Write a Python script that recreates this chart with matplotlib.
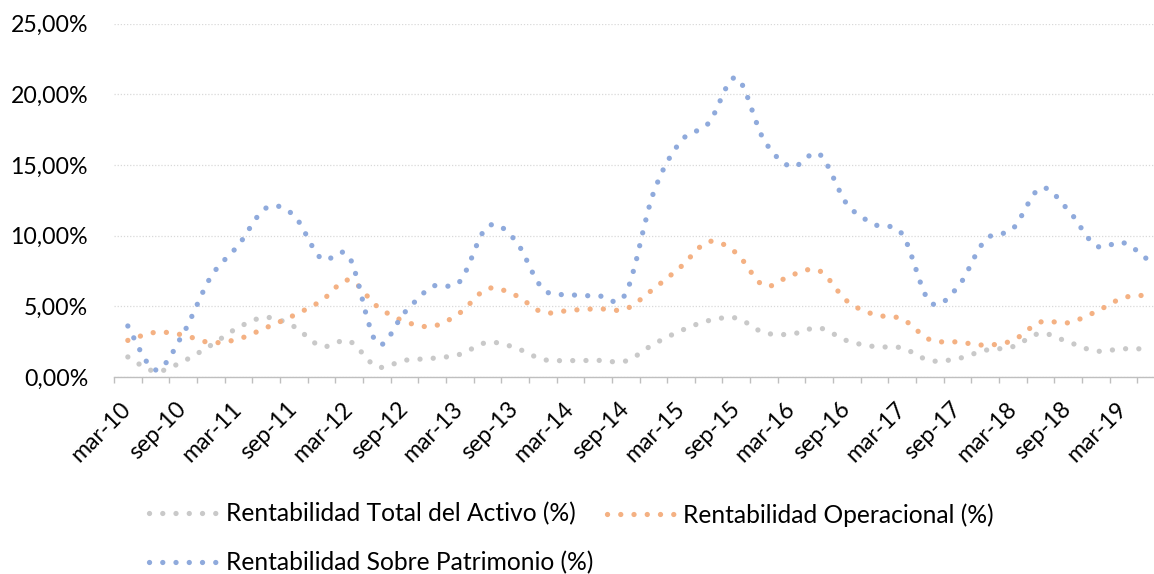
import numpy as np
import matplotlib
matplotlib.use("Agg")
import matplotlib.pyplot as plt
from matplotlib.path import Path
from matplotlib.patches import PathPatch
from matplotlib.lines import Line2D
from matplotlib.ticker import FixedLocator, FuncFormatter, NullFormatter

plt.rcParams["font.family"] = ["Lato", "DejaVu Sans"]

# quarterly periods, mar-10 .. jun-19
periods = [f"{m}-{y:02d}" for y in range(10, 20) for m in ("mar", "jun", "sep", "dic")][:38]

# values in %
roa = [1.42, 0.40, 1.11, 2.24, 3.51, 4.22, 3.58, 2.17, 2.55, 0.73,
       1.18, 1.32, 1.60, 2.45, 2.08, 1.25, 1.16, 1.18, 1.13, 2.31,
       3.28, 3.99, 4.17, 3.14, 3.04, 3.47, 2.57, 2.15, 2.05, 1.16,
       1.30, 1.89, 2.15, 3.09, 2.48, 1.84, 2.00, 1.96]
operacional = [2.59, 3.16, 2.97, 2.43, 2.69, 3.49, 4.36, 5.40, 6.86, 5.02,
               3.94, 3.58, 4.53, 6.25, 5.80, 4.58, 4.72, 4.83, 4.81, 6.23,
               7.81, 9.58, 8.77, 6.46, 7.22, 7.52, 5.38, 4.41, 4.10, 2.64,
               2.48, 2.26, 2.59, 3.89, 3.84, 4.62, 5.61, 5.80]
roe = [3.61, 0.50, 3.07, 7.08, 9.34, 11.96, 11.44, 8.37, 8.51, 2.41,
       4.55, 6.39, 6.75, 10.64, 9.69, 6.25, 5.83, 5.75, 5.90, 13.00,
       16.70, 17.97, 21.18, 16.77, 14.88, 15.78, 12.24, 10.80, 10.10, 5.31,
       6.35, 9.69, 10.50, 13.37, 11.82, 9.29, 9.50, 8.10]

series = [
    ("Rentabilidad Total del Activo (%)", roa, "#c9c9c9"),
    ("Rentabilidad Operacional (%)", operacional, "#f4b183"),
    ("Rentabilidad Sobre Patrimonio (%)", roe, "#8faadc"),
]

DOTS = (0, (0.01, 2.5))
LW = 3.8
FS_TICK = 16.7
FS_LEG = 17.7


def smooth_path(xs, ys):
    # excel-like smoothed line as cubic bezier segments
    pts = np.column_stack([xs, ys]).astype(float)
    n = len(pts)
    verts = [pts[0]]
    codes = [Path.MOVETO]
    for i in range(n - 1):
        p0 = pts[max(i - 1, 0)]
        p1 = pts[i]
        p2 = pts[i + 1]
        p3 = pts[min(i + 2, n - 1)]
        verts += [p1 + (p2 - p0) / 6, p2 - (p3 - p1) / 6, p2]
        codes += [Path.CURVE4] * 3
    return Path(verts, codes)


W, H = 1154, 574
fig = plt.figure(figsize=(W / 100, H / 100), dpi=100)
ax = fig.add_axes([114 / W, (H - 377) / H, 1051 / W, (377 - 23.7) / H])

x = np.arange(len(periods))
for i, (name, vals, color) in enumerate(series):
    patch = PathPatch(smooth_path(x, vals), fill=False, edgecolor=color, lw=LW,
                      linestyle=DOTS, capstyle="round", zorder=2 + i)
    ax.add_patch(patch)

ax.set_xlim(-0.5, len(periods) - 0.5)
ax.set_ylim(0, 25)

# y axis
ax.set_yticks(np.arange(0, 26, 5))
ax.yaxis.set_major_formatter(FuncFormatter(lambda v, p: f"{v:.2f}".replace(".", ",") + "%"))
ax.tick_params(axis="y", length=0, pad=18.7, labelsize=FS_TICK)
ax.grid(axis="y", color="#d9d9d9", linestyle=(0, (1, 1.5)), lw=0.9)
ax.set_axisbelow(True)

# x axis: ticks between categories, labels every second category
ax.xaxis.set_major_locator(FixedLocator(np.arange(len(periods) + 1) - 0.5))
ax.xaxis.set_major_formatter(NullFormatter())
ax.xaxis.set_minor_locator(FixedLocator(x[::2]))
ax.set_xticklabels(periods[::2], minor=True)
ax.tick_params(axis="x", which="major", length=4.3, width=1.0, color="#bfbfbf", direction="out")
ax.tick_params(axis="x", which="minor", length=0, pad=20.5, labelsize=FS_TICK)
for lab in ax.get_xticklabels(minor=True):
    lab.set_rotation(45)
    lab.set_ha("right")
    lab.set_va("center")
    lab.set_rotation_mode("anchor")

for s in ("top", "right", "left"):
    ax.spines[s].set_visible(False)
ax.spines["bottom"].set_color("#bfbfbf")
ax.spines["bottom"].set_linewidth(1.0)
ax.spines["bottom"].set_zorder(6)

# legend
def handle(color):
    return Line2D([], [], color=color, lw=LW, linestyle=DOTS, dash_capstyle="round")

leg_kw = dict(frameon=False, fontsize=FS_LEG, handlelength=2.78, handletextpad=0.35,
              borderpad=0, borderaxespad=0)
fig.legend([handle(series[0][2]), handle(series[2][2])], [series[0][0], series[2][0]],
           loc="center left", bbox_to_anchor=(149 / W, (H - 538.3) / H),
           labelspacing=1.03, **leg_kw)
fig.legend([handle(series[1][2])], [series[1][0]],
           loc="center left", bbox_to_anchor=(606.5 / W, (H - 515) / H), **leg_kw)

fig.savefig("out.png", dpi=100)
